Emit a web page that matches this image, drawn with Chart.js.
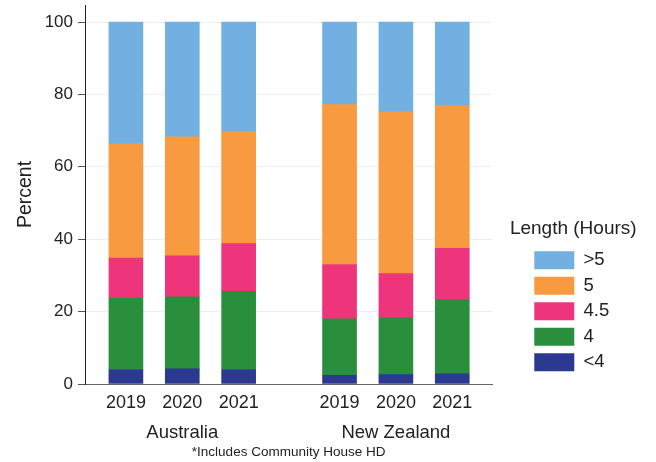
<!DOCTYPE html>
<html>
<head>
<meta charset="utf-8">
<script src="https://cdn.jsdelivr.net/npm/chart.js@4"></script>
<style>
  html, body { margin: 0; padding: 0; background: #fff; }
</style>
</head>
<body>
<canvas id="myChart" width="656" height="462"></canvas>
<script>
/* categories */
var countries = ['Australia', 'New Zealand'];
var years = ['2019', '2020', '2021'];
var lengths = ['<4', '4', '4.5', '5', '>5'];

/* percent per length band: Australia 2019-2021, then New Zealand 2019-2021 */
var under4   = [4.0, 4.2, 4.0, 2.4, 2.6, 2.8];
var four     = [19.9, 19.9, 21.6, 15.6, 15.7, 20.5];
var fourHalf = [10.9, 11.3, 13.2, 15.0, 12.2, 14.2];
var five     = [31.6, 32.9, 31.0, 44.2, 44.7, 39.4];
var over5    = [33.6, 31.7, 30.2, 22.8, 24.8, 23.1];

var yTicks = [0, 20, 40, 60, 80, 100];

var colors = ['#2b3990', '#2a8f3c', '#ee347b', '#f89a40', '#71b0e1'];

// bar positions on the x axis, with a wider gap between the two countries
var groupStep = years.length + 0.79;
var xs = [];
countries.forEach(function (c, g) {
    years.forEach(function (y, i) { xs.push(1 + g * groupStep + i); });
});
var groupMid = countries.map(function (c, g) { return 2 + g * groupStep; });

var series = [under4, four, fourHalf, five, over5];
var datasets = series.map(function (vals, k) {
    return {
        label: lengths[k],
        backgroundColor: colors[k],
        borderWidth: 0,
        barThickness: 34,
        data: vals.map(function (v, i) { return { x: xs[i], y: v }; })
    };
});

// legend title is wider than the legend box, so draw it without clipping
var legendNoClip = {
    id: 'legendNoClip',
    afterInit: function (chart) {
        chart.legend.draw = function () {
            if (this.options.display) this._draw();
        };
    }
};

Chart.defaults.font.family = '"Liberation Sans", Arial, sans-serif';
Chart.defaults.color = '#222';

var ctx = document.getElementById('myChart').getContext('2d');
var chart = new Chart(ctx, {
    type: 'bar',
    data: { datasets: datasets },
    plugins: [legendNoClip],
    options: {
        responsive: false,
        animation: false,
        devicePixelRatio: 1,
        layout: { padding: { top: 5, right: 36.75, bottom: 0, left: 0 } },
        plugins: {
            tooltip: { enabled: false },
            legend: {
                position: 'right',
                align: 'start',
                reverse: true,
                labels: { boxWidth: 40, boxHeight: 18, padding: 7, font: { size: 18.5 } },
                title: {
                    display: true,
                    text: 'Length (Hours)',
                    font: { size: 19 },
                    padding: { top: 214.5, bottom: 1.7 }
                }
            },
            title: {
                display: true,
                text: '*Includes Community House HD',
                position: 'bottom',
                fullSize: false,
                font: { size: 13.5, weight: 'normal' },
                padding: { top: 0, bottom: 2 }
            }
        },
        scales: {
            x: {
                type: 'linear',
                stacked: true,
                min: 0.274,
                max: 7.5,
                offset: false,
                weight: 0,
                afterBuildTicks: function (axis) {
                    axis.ticks = xs.map(function (v) { return { value: v }; });
                },
                afterFit: function (axis) { axis.height = 30; },
                grid: { display: false, drawTicks: false, offset: false },
                border: { color: '#666' },
                ticks: {
                    autoSkip: false,
                    maxRotation: 0,
                    padding: 8,
                    font: { size: 18 },
                    callback: function (v, i) { return years[i % years.length]; }
                }
            },
            x2: {
                type: 'linear',
                position: 'bottom',
                display: true,
                min: 0.274,
                max: 7.5,
                offset: false,
                weight: 1,
                afterBuildTicks: function (axis) {
                    axis.ticks = groupMid.map(function (v) { return { value: v }; });
                },
                afterFit: function (axis) { axis.height = 29.8; },
                grid: { display: false, drawTicks: false },
                border: { display: false },
                ticks: {
                    autoSkip: false,
                    maxRotation: 0,
                    padding: 8,
                    font: { size: 18.5 },
                    callback: function (v, i) { return countries[i]; }
                }
            },
            y: {
                stacked: true,
                min: 0,
                max: 104.7,
                afterBuildTicks: function (axis) {
                    axis.ticks = yTicks.map(function (v) { return { value: v }; });
                },
                afterFit: function (axis) {
                    axis.width = 85;
                    axis.paddingTop = 0;
                    axis.paddingBottom = 0;
                },
                grid: {
                    color: function (c) {
                        return c.tick && c.tick.value === 0 ? 'rgba(0,0,0,0)' : '#e8eef4';
                    },
                    tickColor: '#555',
                    tickLength: 7
                },
                border: { color: '#222' },
                ticks: { padding: 5, font: { size: 17 } },
                title: {
                    display: true,
                    text: 'Percent',
                    font: { size: 19.5 },
                    padding: { top: 14.3, bottom: 0 }
                }
            },
            // empty space between the plot and the legend
            gap: {
                position: 'right',
                display: true,
                grid: { display: false, drawTicks: false },
                border: { display: false },
                ticks: { display: false },
                afterFit: function (axis) { axis.width = 35; }
            }
        }
    }
});
</script>
</body>
</html>
